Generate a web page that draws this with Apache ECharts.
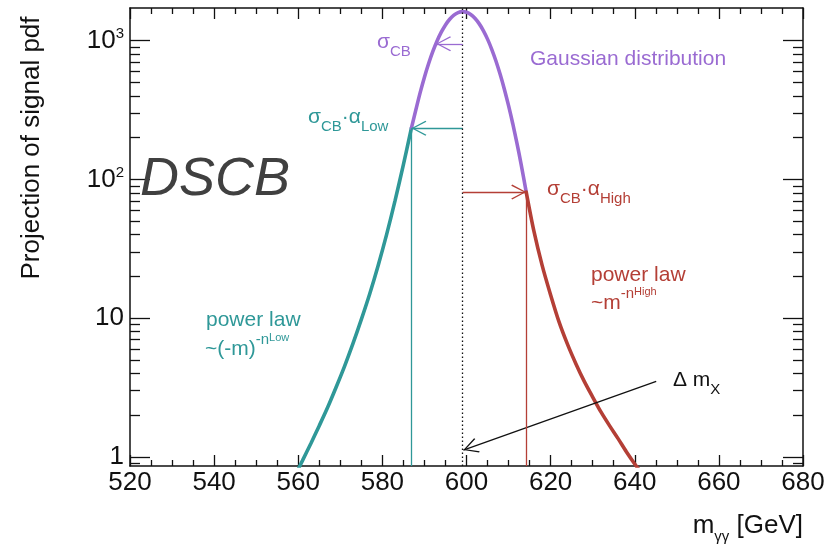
<!DOCTYPE html>
<html>
<head>
<meta charset="utf-8">
<script src="https://cdn.jsdelivr.net/npm/echarts@6/dist/echarts.min.js"></script>
<style>html,body{margin:0;padding:0;background:#fff}#c{width:829px;height:550px}</style>
</head>
<body>
<div id="c"></div>
<script>
// ---- data ----
const lowTailMass  = [559, 561, 563, 565, 567, 569, 571, 573, 575, 577, 579, 581, 583, 585, 586.9];
const lowTailValue = [0.71, 0.94, 1.25, 1.68, 2.28, 3.18, 4.5, 6.55, 9.8, 15.0, 24.0, 40.0, 70.0, 128, 234];

const coreMass  = [586.9, 588, 589, 590, 591, 592, 593, 594, 595, 596, 597, 598, 599, 600, 601, 602, 603, 604, 605, 606, 607, 608, 609, 610, 611, 612, 613, 614.2];
const coreValue = [234, 321, 424, 546, 684, 836, 994, 1151, 1299, 1428, 1529, 1594, 1620, 1603, 1545, 1451, 1327, 1182, 1026, 867, 714, 572, 447, 340, 252, 182, 128, 81];

const highTailMass  = [614.2, 616, 618, 620, 622, 624, 626, 628, 630, 632, 634, 636, 638, 640, 642];
const highTailValue = [81, 42.7, 23.9, 14.7, 9.4, 6.5, 4.7, 3.5, 2.7, 2.1, 1.68, 1.36, 1.09, 0.89, 0.74];

// annotation anchor values (data space)
const meanMass = 599.1;
const sigmaArrow = {from: [599.1, 950], to: [592.75, 950]};
const lowArrow   = {from: [599.1, 234], to: [586.9, 234]};
const highArrow  = {from: [599.1, 81],  to: [614.2, 81]};
const lowDrop    = {from: [586.9, 234], to: [586.9, 0.86]};
const highDrop   = {from: [614.2, 81],  to: [614.2, 0.86]};
const deltaArrow = {from: [645.1, 3.5], to: [599.25, 1.12]};

// axis ticks
const xMin = 520, xMax = 680, xStep = 20;
const yMin = 0.86, yMax = 1720;
const yMajorTicks = [1, 10, 100, 1000];
const yMinorTicks = [0.9, 2, 3, 4, 5, 6, 7, 8, 9, 20, 30, 40, 50, 60, 70, 80, 90, 200, 300, 400, 500, 600, 700, 800, 900];

// ---- styling ----
const PURPLE = '#9a6bd2';
const TEAL = '#2f9898';
const RED = '#b43f36';
const INK = '#111111';
const FONT = 'Liberation Sans, Arial, Helvetica, sans-serif';

const chevron = 'path://M10,0 L20,18 L18.6,19.2 L10,3.2 L1.4,19.2 L0,18 Z';

function zip(a, b) { return a.map((v, i) => [v, b[i]]); }

function arrow(seg, color) {
  return [
    {coord: seg.from, symbol: 'none', lineStyle: {color: color, width: 1.3, type: 'solid'}},
    {coord: seg.to, symbol: chevron, symbolSize: [15, 15], symbolOffset: [0, 7.5], symbolKeepAspect: false,
     itemStyle: {color: color}}
  ];
}
function plain(seg, color) {
  return [
    {coord: seg.from, symbol: 'none', lineStyle: {color: color, width: 1.3, type: 'solid'}},
    {coord: seg.to, symbol: 'none'}
  ];
}

const chart = echarts.init(document.getElementById('c'), null, {renderer: 'canvas'});

const axisLineStyle = {color: INK, width: 1.5};
const tickLine = {color: INK, width: 1.3};

function xAxisDef(pos, labels) {
  return {
    type: 'value', position: pos, min: xMin, max: xMax, interval: xStep,
    axisLine: {show: true, onZero: false, lineStyle: axisLineStyle},
    axisTick: {show: true, inside: true, length: 11, lineStyle: tickLine},
    minorTick: {show: true, splitNumber: 4, length: 6, lineStyle: tickLine},
    splitLine: {show: false}, minorSplitLine: {show: false},
    axisLabel: {show: labels, fontSize: 26, color: INK, fontFamily: FONT, margin: 4,
                showMinLabel: true, showMaxLabel: true, hideOverlap: false}
  };
}
function yAxisDef(pos, ticks, len, labels, line) {
  return {
    type: 'log', logBase: 10, position: pos, min: yMin, max: yMax,
    axisLine: {show: line, onZero: false, lineStyle: axisLineStyle},
    axisTick: {show: true, inside: true, length: len, lineStyle: tickLine, customValues: ticks},
    minorTick: {show: false},
    splitLine: {show: false},
    axisLabel: labels ? {
      show: true, customValues: yMajorTicks, margin: 6, color: INK, fontFamily: FONT, fontSize: 26,
      formatter: function (v) {
        const l = Math.log10(v), e = Math.round(l);
        if (Math.abs(l - e) > 1e-6) return '';
        if (e === 0) return '{b|1}';
        if (e === 1) return '{b|10}';
        return '{b|10}{s|' + e + '}';
      },
      rich: {
        b: {fontSize: 26, lineHeight: 28, fontFamily: FONT, color: INK},
        s: {fontSize: 15, lineHeight: 15, verticalAlign: 'top', fontFamily: FONT, color: INK}
      }
    } : {show: false}
  };
}

function richText(x, y, text, color, extra) {
  const rich = {
    a: {fontSize: 21, lineHeight: 34, fontFamily: FONT, fill: color},
    sb: {fontSize: 15, lineHeight: 15, verticalAlign: 'bottom', fontFamily: FONT, fill: color},
    sp: {fontSize: 15, lineHeight: 15, verticalAlign: 'top', fontFamily: FONT, fill: color},
    ss: {fontSize: 11, lineHeight: 27, verticalAlign: 'top', fontFamily: FONT, fill: color}
  };
  return Object.assign({
    type: 'text', x: x, y: y, silent: true, z: 100,
    style: {text: text, rich: rich, fill: color, font: '21px ' + FONT, align: 'left', verticalAlign: 'middle'}
  }, extra || {});
}

const option = {
  backgroundColor: '#ffffff',
  animation: false,
  grid: {left: 130, right: 26, top: 8, bottom: 84, containLabel: false, outerBoundsMode: 'none'},
  xAxis: [xAxisDef('bottom', true), xAxisDef('top', false)],
  yAxis: [
    yAxisDef('left', yMajorTicks, 20, true, true),
    yAxisDef('left', yMinorTicks, 10, false, false),
    yAxisDef('right', yMajorTicks, 20, false, true),
    yAxisDef('right', yMinorTicks, 10, false, false)
  ],
  series: [
    {
      name: 'low tail', type: 'line', xAxisIndex: 0, yAxisIndex: 0,
      data: zip(lowTailMass, lowTailValue), showSymbol: false, smooth: 0.3,
      lineStyle: {color: TEAL, width: 3.6, cap: 'round'}, itemStyle: {color: TEAL}, z: 3,
      markLine: {silent: true, animation: false, symbol: 'none', label: {show: false},
        data: [arrow(lowArrow, TEAL), plain(lowDrop, TEAL)]}
    },
    {
      name: 'gaussian core', type: 'line', xAxisIndex: 0, yAxisIndex: 0,
      data: zip(coreMass, coreValue), showSymbol: false, smooth: 0.3,
      lineStyle: {color: PURPLE, width: 3.6, cap: 'round'}, itemStyle: {color: PURPLE}, z: 3,
      markLine: {silent: true, animation: false, symbol: 'none', label: {show: false},
        data: [
          {xAxis: meanMass, lineStyle: {color: INK, width: 1.3, type: [1.5, 2.5]}},
          arrow(sigmaArrow, PURPLE),
          arrow(deltaArrow, INK)
        ]}
    },
    {
      name: 'high tail', type: 'line', xAxisIndex: 0, yAxisIndex: 0,
      data: zip(highTailMass, highTailValue), showSymbol: false, smooth: 0.3,
      lineStyle: {color: RED, width: 3.6, cap: 'round'}, itemStyle: {color: RED}, z: 3,
      markLine: {silent: true, animation: false, symbol: 'none', label: {show: false},
        data: [arrow(highArrow, RED), plain(highDrop, RED)]}
    }
  ],
  graphic: [
    richText(377, 42, '{a|σ}{sb|CB}', PURPLE),
    richText(530, 59, '{a|Gaussian distribution}', PURPLE),
    richText(308, 117, '{a|σ}{sb|CB}{a|·α}{sb|Low}', TEAL),
    richText(547, 189, '{a|σ}{sb|CB}{a|·α}{sb|High}', RED),
    richText(591, 275, '{a|power law}', RED),
    richText(591, 303, '{a|~m}{sp|-n}{ss|High}', RED),
    richText(206, 320, '{a|power law}', TEAL),
    richText(205, 349, '{a|~(-m)}{sp|-n}{ss|Low}', TEAL),
    richText(673, 380, '{a|Δ m}{sb|X}', INK),
    {
      type: 'text', x: 140, y: 180, silent: true, z: 100,
      style: {text: 'DSCB', fill: '#404040', font: 'italic 54px ' + FONT, align: 'left', verticalAlign: 'middle'}
    },
    {
      type: 'text', x: 32, y: 148, rotation: Math.PI / 2, silent: true, z: 100,
      style: {text: 'Projection of signal pdf', fill: INK, font: '26px ' + FONT, align: 'center', verticalAlign: 'middle'}
    },
    {
      type: 'text', x: 803, y: 526, silent: true, z: 100,
      style: {
        text: '{m|m}{g|γγ}{m| [GeV]}', fill: INK, font: '26px ' + FONT, align: 'right', verticalAlign: 'middle',
        rich: {
          m: {fontSize: 26, lineHeight: 36, fontFamily: FONT, fill: INK},
          g: {fontSize: 15, lineHeight: 15, verticalAlign: 'bottom', fontFamily: FONT, fill: INK}
        }
      }
    }
  ]
};
chart.setOption(option);
</script>
</body>
</html>
